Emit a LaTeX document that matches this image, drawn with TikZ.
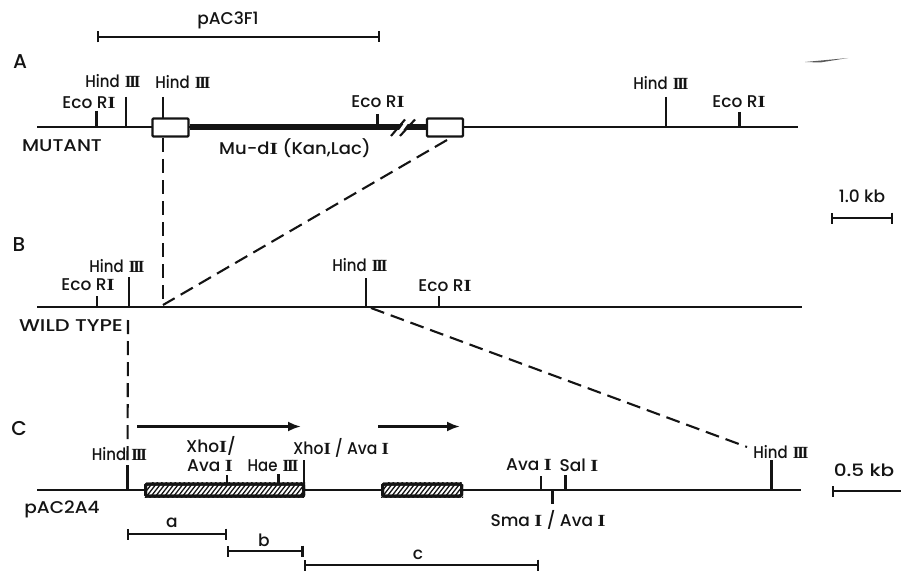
\documentclass[tikz,border=0pt]{standalone}
\usepackage{graphicx}
\usepackage{fontspec}
\setmainfont{Poppins Medium}
\newfontfamily\romfont{Liberation Serif}
\usetikzlibrary{arrows.meta}
\newcommand{\Hd}[1]{\scalebox{0.88}[1]{#1}{\hspace{5pt}\romfont\bfseries I\kern-2pt I\kern-2pt I}}
\newcommand{\Ri}{{\romfont\bfseries\scalebox{1.2}[1]{I}}}
\newcommand{\tickmark}[4]{\coordinate (#1a) at (#2,#3); \coordinate (#1b) at (#2,#4); \draw[tickline] (#1a) -- (#1b);}
\tikzset{
  lab/.style={font=\fontsize{17}{18}\selectfont, inner sep=0pt, text=ink, align=center, yshift=-1pt},
  panel/.style={font=\fontsize{20}{21}\selectfont, inner sep=0pt, text=ink},
  dnaline/.style={draw=ink, line width=2.6pt},
  tickline/.style={draw=ink, line width=2.1pt},
  dashline/.style={draw=ink, line width=2.1pt, dash pattern=on 14pt off 7pt},
  openbox/.style={draw=ink, fill=white, line width=2.4pt, rounded corners=1pt, minimum width=36pt, minimum height=18pt, inner sep=0pt},
  hatchbox/.style={draw=ink, line width=3pt, rounded corners=1.5pt, minimum height=12pt, inner sep=0pt},
  barline/.style={draw=ink, line width=2.5pt, {Bar[width=11pt,line width=2.1pt]}-{Bar[width=11pt,line width=2.1pt]}},
  arrowline/.style={draw=ink, line width=2.5pt, -{Latex[length=13pt,width=10pt]}},
}
\definecolor{ink}{gray}{0.08}
\begin{document}
\begin{tikzpicture}[x=1pt,y=-1pt]
\useasboundingbox[fill=white] (0,0) rectangle (901,572);

% top fragment
\coordinate (f1) at (96.5,37); \coordinate (f2) at (380,37);
\draw[barline] (f1) -- (f2);
\node[lab] (lf) at (228,19) {pAC3F1};

% panel A
\node[panel] (pA) at (20,62) {A};
\coordinate (aL) at (37,127); \coordinate (aR) at (798,127);
\draw[dnaline] (aL) -- (aR);
\node[openbox] (b1) at (170.5,127.5) {};
\node[openbox] (b2) at (445,127.5) {};
\draw[draw=ink, line width=6pt] (b1.east) -- (b2.west);
\fill[white] (394,137) -- (408,118) -- (412,118) -- (398,137) -- cycle;
\coordinate (s1a) at (391,136); \coordinate (s1b) at (405,119.5);
\coordinate (s2a) at (400,136); \coordinate (s2b) at (415,119.5);
\draw[tickline] (s1a) -- (s1b);
\draw[tickline] (s2a) -- (s2b);
\tickmark{ta1}{96.5}{111}{127}
\tickmark{ta2}{126}{97}{127}
\tickmark{ta3}{163}{97}{118}
\tickmark{ta4}{377.5}{114}{127}
\tickmark{ta5}{666}{97}{127}
\tickmark{ta6}{739.5}{112}{127}
\node[lab] (l1) at (89,102) {Eco R\Ri};
\node[lab] (l2) at (113,80) {\Hd{Hind}};
\node[lab] (l3) at (183,81) {\Hd{Hind}};
\node[lab] (l4) at (378,101) {Eco R\Ri};
\node[lab] (l5) at (661,82) {\Hd{Hind}};
\node[lab] (l6) at (739,101) {Eco R\Ri};
\node[lab] (l7) at (62,145) {\scalebox{1.14}[1]{MUTANT}};
\node[lab] (l8) at (295,147) {\scalebox{1.06}[1]{Mu-d\Ri{} (Kan,Lac)}};

% panel B
\node[panel] (pB) at (19,245) {B};
\coordinate (bL) at (37,307); \coordinate (bR) at (802,307);
\draw[dnaline] (bL) -- (bR);
\tickmark{tb1}{97}{296}{307}
\tickmark{tb2}{129}{277}{307}
\tickmark{tb3}{366}{278}{307}
\tickmark{tb4}{439}{296}{307}
\node[lab] (l9) at (88,284) {Eco R\Ri};
\node[lab] (l10) at (117,265) {\Hd{Hind}};
\node[lab] (l11) at (360,264) {\Hd{Hind}};
\node[lab] (l12) at (445,285) {Eco R\Ri};
\node[lab] (l13) at (71,325) {\scalebox{1.23}[1]{WILD TYPE}};

% panel C
\node[panel] (pC) at (19,429) {C};
\coordinate (cL) at (37,490); \coordinate (cR) at (801,490);
\draw[dnaline] (cL) -- (cR);
\node[hatchbox, minimum width=158pt, fill=white] (h1) at (224.5,490) {};
\node[hatchbox, minimum width=79pt, fill=white] (h2) at (422,490) {};
\begin{scope}
  \clip (h1.south west) rectangle (h1.north east);
  \foreach \x in {140,144.5,...,310} \draw[ink, line width=1.3pt] (\x,499) -- (\x+14,481);
\end{scope}
\begin{scope}
  \clip (h2.south west) rectangle (h2.north east);
  \foreach \x in {376,380.5,...,470} \draw[ink, line width=1.3pt] (\x,499) -- (\x+14,481);
\end{scope}
\node[hatchbox, minimum width=158pt] (h1o) at (224.5,490) {};
\node[hatchbox, minimum width=79pt] (h2o) at (422,490) {};
\coordinate (a1s) at (137,426.5); \coordinate (a1e) at (301,426.5);
\coordinate (a2s) at (378,426.5); \coordinate (a2e) at (460,426.5);
\draw[arrowline] (a1s) -- (a1e);
\draw[arrowline] (a2s) -- (a2e);
\tickmark{tc1}{127.5}{465}{490}
\tickmark{tc2}{227}{475}{483}
\tickmark{tc3}{278.5}{474}{483}
\tickmark{tc4}{304}{460}{490}
\tickmark{tc5}{541}{476}{490}
\tickmark{tc6}{565.5}{475}{490}
\tickmark{tc7}{552.5}{490}{504}
\tickmark{tc8}{771.5}{460}{490}
\node[lab] (l14) at (119.5,453) {\Hd{Hind}};
\node[lab] (l15) at (211,445) {Xho\Ri/};
\node[lab] (l16) at (210,465) {Ava \Ri};
\node[lab] (l17) at (273,465) {\Hd{Hae}};
\node[lab] (l18) at (341,447) {\scalebox{0.92}[1]{Xho\Ri{} / Ava \Ri}};
\node[lab] (l19) at (529,464) {Ava \Ri};
\node[lab] (l20) at (579,464) {Sal \Ri};
\node[lab] (l21) at (548,519) {Sma \Ri{} / Ava \Ri};
\node[lab] (l22) at (781,451) {\Hd{Hind}};
\node[lab] (l23) at (62,508) {\scalebox{1.09}[1]{pAC2A4}};

% fragments
\coordinate (ga) at (126.5,534); \coordinate (gb) at (227,534);
\coordinate (gc) at (227,551); \coordinate (gd) at (303.5,551);
\coordinate (ge) at (303.5,565); \coordinate (gf) at (539,565);
\draw[barline] (ga) -- (gb);
\draw[barline] (gc) -- (gd);
\draw[barline] (ge) -- (gf);
\node[lab] (la) at (172,522) {a};
\node[lab] (lb) at (264,539) {b};
\node[lab] (lc) at (418,554) {c};

% dashed connectors
\coordinate (d1) at (163,305);
\coordinate (d3) at (128,320); \coordinate (d4) at (127.5,465);
\coordinate (d5) at (371,308); \coordinate (d6) at (747,447);
\coordinate (d7) at (447,140);
\draw[dashline] (163,138) -- (d1);
\draw[dashline] (d7) -- (d1);
\draw[dashline] (d3) -- (d4);
\draw[dashline] (d5) -- (d6);

% scale bars
\node[lab] (k1) at (862,195) {1.0 kb};
\coordinate (k1a) at (831,218); \coordinate (k1b) at (893,218);
\draw[barline] (k1a) -- (k1b);
\node[lab] (k2) at (864,469) {\scalebox{1.18}[1]{0.5 kb}};
\coordinate (k2a) at (832,491); \coordinate (k2b) at (901,491);
\draw[dnaline, {Bar[width=11pt,line width=2.1pt]}-] (k2a) -- (k2b);

% smudge
\coordinate (sm1) at (805,62); \coordinate (sm2) at (848,58);
\fill[gray!70!black] (sm1) -- (sm2) -- (820,62.5) -- cycle;
\end{tikzpicture}
\end{document}
